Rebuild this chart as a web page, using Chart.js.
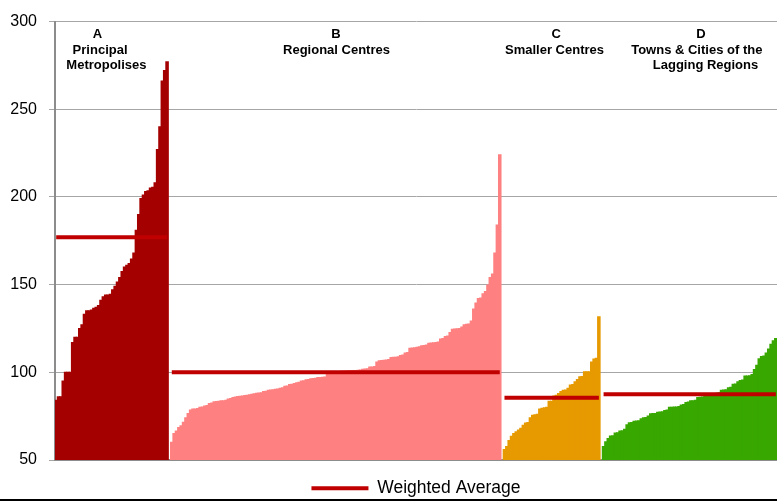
<!DOCTYPE html>
<html>
<head>
<meta charset="utf-8">
<script src="https://cdn.jsdelivr.net/npm/chart.js@4.4.1/dist/chart.umd.min.js"></script>
<style>
  html, body { margin: 0; padding: 0; background: #fff; overflow: hidden; }
  #wrap { position: relative; width: 777px; height: 507px; }
  #rule { position: absolute; left: 0; top: 499px; width: 777px; height: 2px; background: #000; }
</style>
</head>
<body>
<div id="wrap"><canvas id="chart"></canvas></div>
<div id="rule"></div>
<script>
// bars sorted within each city group
const groupA = [84, 86, 86, 95, 100, 100, 100, 117, 120, 120,
  125, 127, 133, 135, 135, 135.5, 136.5, 137, 138, 141,
  143, 144, 144, 144.5, 147, 149, 151.5, 154, 157.5, 160,
  161, 162, 164.5, 168, 181, 190, 199, 201, 203, 203.5,
  205, 205.5, 208, 227, 240, 266, 272, 277];

const groupB = [60, 65, 66.5, 68.5, 69.5, 71.5, 74, 76.5, 78.5, 79,
  79, 79.3, 80, 80.2, 80.7, 81, 82.2, 82.5, 83.2, 83.3,
  83.5, 83.7, 83.8, 84, 84.7, 85, 85.6, 85.8, 86.2, 86.3,
  86.5, 86.7, 86.9, 87.2, 87.5, 87.7, 88, 88.1, 88.3, 89,
  89.2, 89.7, 89.8, 90, 90.3, 90.5, 90.8, 91.2, 92, 92.2,
  93, 93.2, 93.6, 94, 94.3, 95, 95.2, 95.7, 95.9, 96.3,
  96.4, 96.6, 97, 97, 97.1, 97.3, 99.8, 100, 100, 100.1,
  100.2, 100.3, 100.5, 100.6, 100.7, 100.8, 100.9, 101, 101, 101.1,
  101.2, 101.7, 101.8, 102, 103, 103, 103.2, 105.8, 106.5, 106.7,
  106.8, 107, 107.2, 108.4, 108.5, 108.6, 108.8, 109.5, 109.8, 111,
  111.2, 113.7, 113.8, 114, 114.2, 114.5, 115.1, 115.3, 115.5, 116.5,
  116.6, 116.8, 117, 117.3, 118.9, 119.2, 120.4, 120.6, 122.6, 124.5,
  124.6, 124.8, 125, 125.8, 127.1, 127.3, 127.5, 129.2, 136.1, 139.5,
  142, 142.3, 144.7, 146, 149.7, 154, 156, 168, 184, 224];

const groupC = [56, 57.6, 61, 63.5, 65, 66, 67, 68, 69.7, 71,
  71.3, 74, 75.5, 75.7, 76, 79, 79.5, 79.7, 80, 83.4,
  83.5, 86.5, 86.8, 87.8, 89, 89.7, 89.8, 90.8, 92.7, 93,
  94.6, 95.9, 97.4, 97.6, 100.2, 100.2, 100.3, 105.8, 107.5, 108,
  131.6];

const groupD = [57.6, 60.4, 62.2, 63.7, 63.8, 65.4, 65.5, 66.5, 66.6, 67.5,
  70, 71.2, 71.3, 72.1, 72.2, 72.3, 73.5, 74, 74.2, 75,
  76.3, 76.4, 76.5, 77.2, 77.3, 77.5, 78.1, 78.5, 80, 80,
  80.1, 80.2, 80.4, 81.3, 81.6, 82.8, 83, 83.7, 83.8, 84,
  85.6, 85.7, 85.9, 86.9, 87, 87.1, 87.3, 87.8, 88, 88.3,
  89.7, 89.8, 90, 91.2, 91.4, 93.1, 93.3, 94.5, 95.3, 95.5,
  97.8, 97.9, 98, 98.7, 101.5, 104, 107.7, 109, 109.3, 111,
  113.3, 115.9, 118, 119.3];

const weightedAvg = [177, 100, 85.5, 87.5];

const groupTitles = [
  ['A', 'Principal', 'Metropolises'],
  ['B', 'Regional Centres'],
  ['C', 'Smaller Centres'],
  ['D', 'Towns & Cities of the', 'Lagging Regions'],
];
// where each title line sits, in category index units
const titleAnchors = [[17.5, 18.6, 21.3], [118.6, 118.8], [211.9, 211.2], [273.3, 271.5, 275.2]];

const yTicks = [50, 100, 150, 200, 250, 300];

const groupColors = ['#A50000', '#FF8080', '#E69A00', '#38A800'];
const FONT = '"Liberation Sans", Arial, sans-serif';

// one category per city, with an empty slot between groups
const groups = [groupA, groupB, groupC, groupD];
const labels = [];
const barSeries = groups.map(() => []);
const avgSeries = [];
groups.forEach((vals, gi) => {
  if (gi > 0) {
    labels.push('');
    barSeries.forEach(s => s.push(null));
    avgSeries.push(null);
  }
  vals.forEach(v => {
    labels.push('');
    barSeries.forEach((s, si) => s.push(si === gi ? v : null));
    avgSeries.push(weightedAvg[gi]);
  });
});

const titlePlugin = {
  id: 'groupTitles',
  afterDraw(chart) {
    const { ctx, chartArea, scales: { x } } = chart;
    ctx.save();
    ctx.font = 'bold 13px ' + FONT;
    ctx.fillStyle = '#000';
    ctx.textAlign = 'center';
    ctx.textBaseline = 'alphabetic';
    groupTitles.forEach((lines, gi) => {
      lines.forEach((text, li) => {
        ctx.fillText(text, x.getPixelForValue(titleAnchors[gi][li]), chartArea.top + 16.5 + li * 15.5);
      });
    });
    ctx.restore();
  }
};

const datasets = barSeries.map((data, i) => ({
  type: 'bar',
  label: groupTitles[i].join(' '),
  data,
  backgroundColor: groupColors[i],
  borderWidth: 0,
  inflateAmount: 0.6,
  grouped: false,
  barPercentage: 1,
  categoryPercentage: 1,
  order: 2,
}));
datasets.push({
  type: 'line',
  label: 'Weighted Average',
  data: avgSeries,
  borderColor: '#C00000',
  backgroundColor: '#C00000',
  borderWidth: 4,
  borderCapStyle: 'butt',
  pointRadius: 0,
  spanGaps: false,
  fill: false,
  order: 1,
});

new Chart(document.getElementById('chart'), {
  type: 'bar',
  data: { labels, datasets },
  options: {
    responsive: true,
    maintainAspectRatio: false,
    animation: false,
    layout: { padding: { top: 14, right: 0, bottom: 0, left: 0 } },
    scales: {
      x: {
        grid: { display: false },
        ticks: { display: false },
        border: { color: '#8C8C8C', width: 2 },
        afterFit: s => { s.height = 9.5; },
      },
      y: {
        min: 50,
        max: 300,
        afterBuildTicks: s => { s.ticks = yTicks.map(value => ({ value })); },
        ticks: { padding: 12, color: '#000', font: { family: FONT, size: 16 } },
        grid: { color: '#A6A6A6', tickLength: 6 },
        border: { color: '#8C8C8C', width: 2 },
        afterFit: s => { s.width = 55; },
      },
    },
    plugins: {
      legend: {
        position: 'bottom',
        fullSize: false,
        labels: {
          boxWidth: 57,
          boxHeight: 4,
          color: '#000',
          font: { family: FONT, size: 17.5 },
          generateLabels: chart => Chart.defaults.plugins.legend.labels.generateLabels(chart)
            .filter(item => item.text === 'Weighted Average')
            .map(item => ({ ...item, lineWidth: 0 })),
        },
      },
      tooltip: { enabled: false },
    },
  },
  plugins: [titlePlugin],
});
</script>
</body>
</html>
